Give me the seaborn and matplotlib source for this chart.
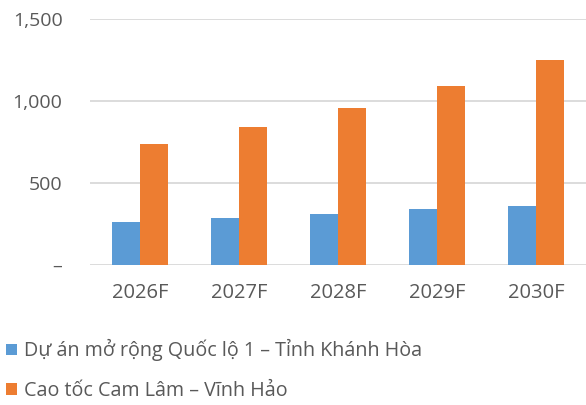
import pandas as pd
import numpy as np
import matplotlib.pyplot as plt
import seaborn as sns
from matplotlib.patches import Patch
from matplotlib.ticker import FuncFormatter

# data
years = ["2026F", "2027F", "2028F", "2029F", "2030F"]
series_names = ["Dự án mở rộng Quốc lộ 1 – Tỉnh Khánh Hòa", "Cao tốc Cam Lâm – Vĩnh Hảo"]
ql1_values = [264, 285, 311, 340, 360]
camlam_values = [738, 843, 961, 1096, 1250]
colors = ["#5B9BD5", "#ED7D31"]

df = pd.DataFrame({
    "year": years * 2,
    "series": [series_names[0]] * len(years) + [series_names[1]] * len(years),
    "value": ql1_values + camlam_values,
})

sns.set_style("white")
plt.rcParams['font.family'] = ['Open Sans', 'DejaVu Sans']
text_color = "#595959"

fig = plt.figure(figsize=(5.86, 4.05), dpi=100)
ax = fig.add_axes([0.154, 0.346, 0.846, 0.606])

sns.barplot(data=df, x="year", y="value", hue="series", palette=colors,
            width=0.566, gap=0, saturation=1, ax=ax, legend=False,
            edgecolor="none")

ax.set_ylim(0, 1500)
ax.set_xlim(-0.5, 4.5)
ax.set_yticks([0, 500, 1000, 1500])
ax.yaxis.set_major_formatter(FuncFormatter(lambda v, p: "–" if v == 0 else f"{v:,.0f}"))
ax.grid(axis="y", color="#D9D9D9", linewidth=1.3)
ax.set_axisbelow(True)
for s in ax.spines.values():
    s.set_visible(False)
ax.set_xlabel("")
ax.set_ylabel("")
ax.tick_params(axis="both", length=0, colors=text_color)
ax.tick_params(axis="y", pad=20, labelsize=14)
ax.tick_params(axis="x", pad=13, labelsize=14.5)
for lbl in ax.get_yticklabels():
    lbl.set_horizontalalignment("right")

handles = [Patch(facecolor=c, edgecolor="none") for c in colors]
fig.legend(handles, series_names, loc="upper left", bbox_to_anchor=(0.01, 0.162),
           frameon=False, fontsize=14.2, labelcolor=text_color,
           handlelength=0.55, handleheight=0.55, handletextpad=0.35,
           labelspacing=1.0, borderaxespad=0, borderpad=0.0)

plt.savefig("out.png", dpi=100)
plt.close()
